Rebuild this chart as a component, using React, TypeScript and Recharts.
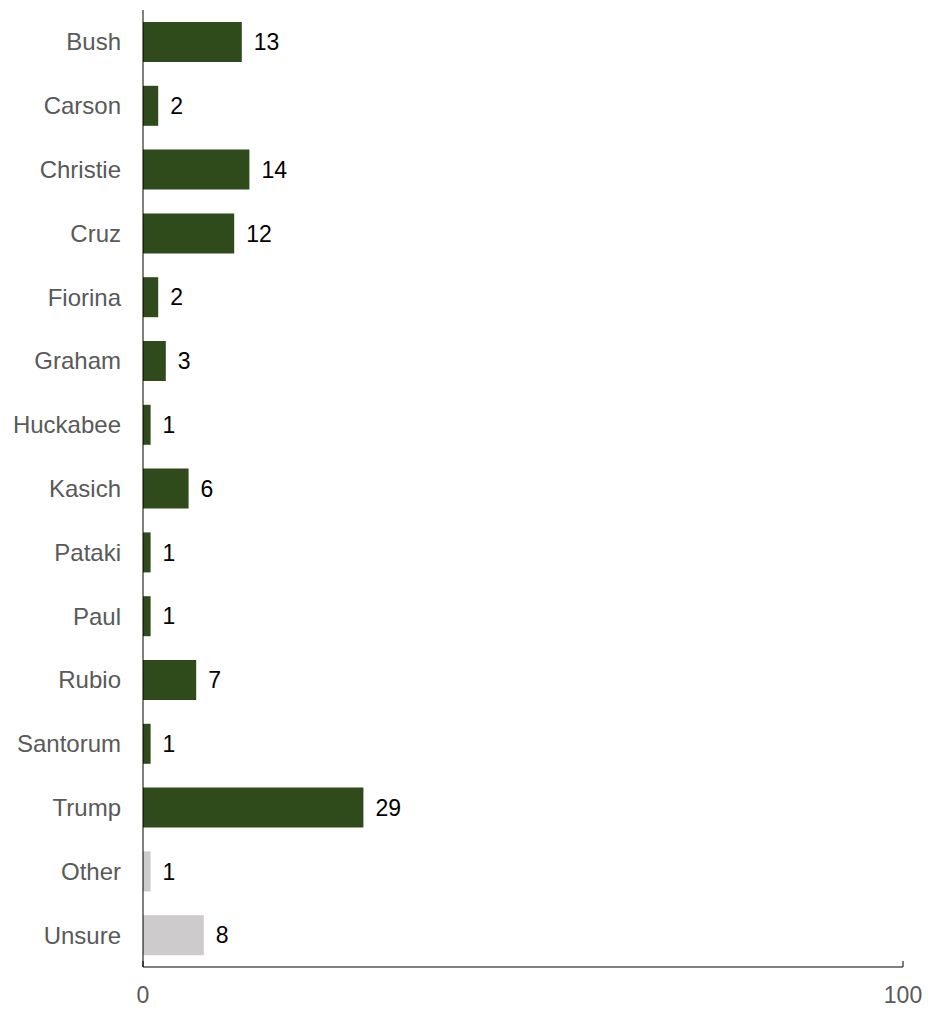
import React from 'react';
import { BarChart, Bar, XAxis, YAxis, Cell, LabelList } from 'recharts';

const candidates = [
  'Bush', 'Carson', 'Christie', 'Cruz', 'Fiorina', 'Graham', 'Huckabee', 'Kasich',
  'Pataki', 'Paul', 'Rubio', 'Santorum', 'Trump', 'Other', 'Unsure',
];
const shares = [13, 2, 14, 12, 2, 3, 1, 6, 1, 1, 7, 1, 29, 1, 8];
const muted = ['Other', 'Unsure'];
const xTicks = [0, 100];

const GREEN = '#2f4a1b';
const GREY = '#cdcbcb';
const FONT = 'Arial, "Liberation Sans", Helvetica, sans-serif';

const data = candidates.map((name, i) => ({ name, value: shares[i] }));

// small upward tick at each value, label below
const XTick = ({ x, y, payload }: any) => {
  const axisY = y - 30;
  return (
    <g>
      <line x1={x} x2={x} y1={axisY} y2={axisY - 6} stroke="#000" strokeWidth={1} />
      <text x={x} y={axisY + 36} textAnchor="middle" fill="#595959" fontSize={23} fontFamily={FONT}>
        {payload.value}
      </text>
    </g>
  );
};

export default function App() {
  return (
    <div style={{ position: 'absolute', left: 0, top: 0, background: '#fff' }}>
      <BarChart
        width={930}
        height={1009}
        data={data}
        layout="vertical"
        margin={{ top: 10, right: 27, bottom: 0, left: 0 }}
        barSize={40}
      >
        <XAxis
          type="number"
          domain={[0, 100]}
          ticks={xTicks}
          tickLine={false}
          tickSize={0}
          tickMargin={30}
          height={42}
          axisLine={{ stroke: '#000' }}
          tick={<XTick />}
        />
        <YAxis
          type="category"
          dataKey="name"
          width={143}
          tickLine={false}
          tickSize={0}
          tickMargin={22}
          axisLine={{ stroke: '#000' }}
          tick={{ fill: '#595959', fontSize: 24, fontFamily: FONT }}
          interval={0}
        />
        <Bar dataKey="value" isAnimationActive={false}>
          {data.map((d) => (
            <Cell key={d.name} fill={muted.includes(d.name) ? GREY : GREEN} />
          ))}
          <LabelList
            dataKey="value"
            position="right"
            offset={12}
            fill="#000"
            fontSize={23}
            fontFamily={FONT}
          />
        </Bar>
      </BarChart>
    </div>
  );
}
